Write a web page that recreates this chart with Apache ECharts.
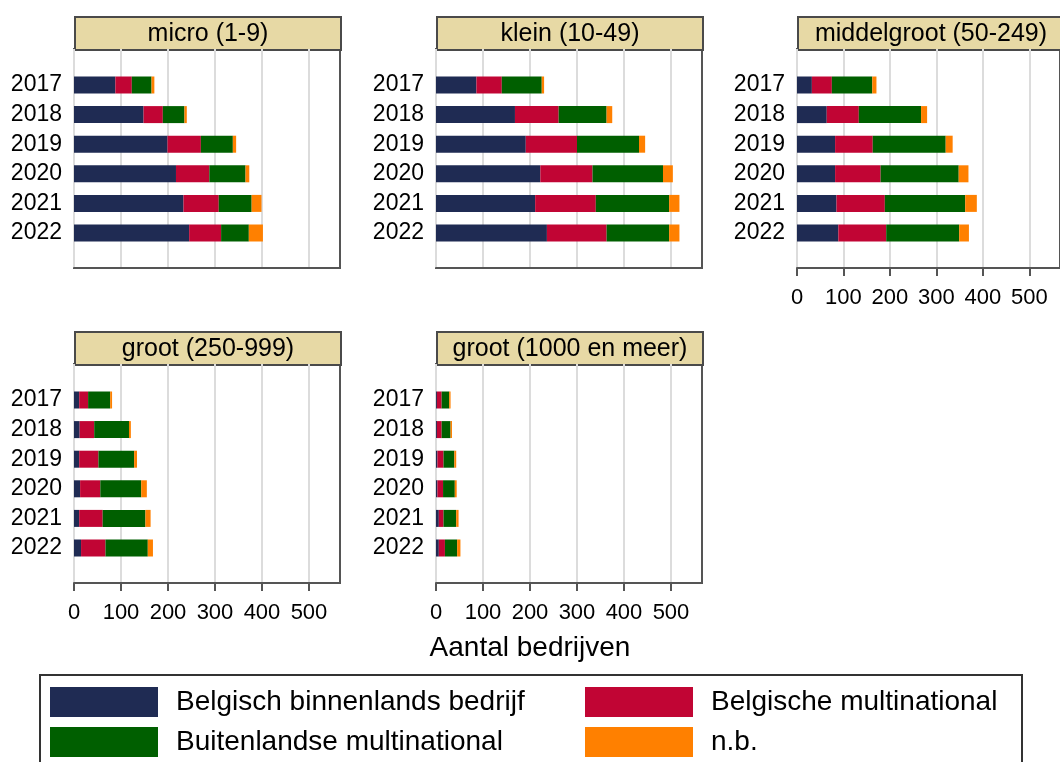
<!DOCTYPE html>
<html>
<head>
<meta charset="utf-8">
<script src="https://cdn.jsdelivr.net/npm/echarts@6/dist/echarts.min.js"></script>
<style>
html,body{margin:0;padding:0;background:#fff;}
#chart{width:1060px;height:762px;}
</style>
</head>
<body>
<div id="chart"></div>
<script>
// ---- data ----
const years = ['2017','2018','2019','2020','2021','2022'];
const panelTitles = ['micro (1-9)','klein (10-49)','middelgroot (50-249)','groot (250-999)','groot (1000 en meer)'];
const seriesNames = ['Belgisch binnenlands bedrijf','Belgische multinational','Buitenlandse multinational','n.b.'];
const xTicks = [0,100,200,300,400,500];
const axisTitle = 'Aantal bedrijven';

// one row per panel (micro, klein, middelgroot, groot 250-999, groot 1000+), values per year
const binnenlands = [
  [88,148,199,217,233,245],
  [86,168,191,222,211,236],
  [32,64,82,82,85,89],
  [11,12,11,13,11,15],
  [2,2,3,3,6,6]
];
const belgischeMulti = [
  [35,41,71,71,75,68],
  [54,93,109,111,129,127],
  [43,69,81,98,104,103],
  [19,31,41,43,50,52],
  [10,10,13,12,10,13]
];
const buitenlandseMulti = [
  [42,46,68,77,70,59],
  [85,102,132,150,156,133],
  [87,134,157,168,173,157],
  [47,74,76,87,91,90],
  [16,19,23,25,27,26]
];
const nb = [
  [6,5,7,8,21,30],
  [5,12,13,21,22,22],
  [9,13,15,21,25,21],
  [4,4,6,12,11,11],
  [3,3,4,4,5,7]
];

// ---- styling / layout ----
const colors = ['#1f2b53','#c10534','#005f00','#ff8000'];
const FONT = 'Liberation Sans, Arial, sans-serif';
const XMAX = 566;
const PW = 266, PH = 219;
const layout = [
  {l:74,  t:49,  labels:false},
  {l:436, t:49,  labels:false},
  {l:797, t:49,  labels:true},
  {l:74,  t:364, labels:true},
  {l:436, t:364, labels:true}
];
const seriesData = [binnenlands, belgischeMulti, buitenlandseMulti, nb];

const grid = [], xAxis = [], yAxis = [], series = [], graphic = [];

layout.forEach((p, i) => {
  // frame grid
  grid.push({left:p.l, top:p.t, width:PW, height:PH, show:true, backgroundColor:'#fff',
             borderColor:'#555', borderWidth:2, z:0});
  // bar grid
  grid.push({left:p.l, top:p.t + 21.2, width:PW, height:177.6, show:false});
  const fg = 2*i, bg = 2*i + 1;
  xAxis.push({
    type:'value', gridIndex:fg, min:0, max:XMAX, interval:100,
    axisLine:{show:true, onZero:false, lineStyle:{color:'#555', width:2}},
    axisTick:{show:p.labels, length:8, customValues:xTicks, lineStyle:{color:'#555', width:2}},
    axisLabel:{show:p.labels, customValues:xTicks, margin:19,
               fontSize:22, color:'#000', fontFamily:FONT},
    splitLine:{show:true, lineStyle:{color:'#dcdcdc', width:2}}
  });
  yAxis.push({type:'value', gridIndex:fg, min:0, max:1, show:false});
  xAxis.push({type:'value', gridIndex:bg, min:0, max:XMAX, show:false});
  yAxis.push({
    type:'category', gridIndex:bg, data:years, inverse:true,
    axisLine:{show:false}, axisTick:{show:false}, splitLine:{show:false},
    axisLabel:{interval:0, fontSize:23, color:'#000', margin:12, fontFamily:FONT}
  });
  seriesNames.forEach((name, k) => {
    series.push({
      type:'bar', name:name, stack:'panel'+i, xAxisIndex:bg, yAxisIndex:bg,
      data:seriesData[k][i], barWidth:17, itemStyle:{color:colors[k]},
      emphasis:{disabled:true}, z:3
    });
  });
  // header strip
  graphic.push({
    type:'group', left:p.l, top:p.t - 33, z:10,
    children:[
      {type:'rect', shape:{x:0, y:0, width:PW, height:33},
       style:{fill:'#e7d9a5', stroke:'#4a4a4a', lineWidth:2}},
      {type:'text', x:PW/2, y:17,
       style:{text:panelTitles[i], fill:'#000', font:'25px ' + FONT,
              textAlign:'center', textVerticalAlign:'middle'}}
    ]
  });
});

// axis title
graphic.push({type:'text', left:'center', top:634, z:10,
  style:{text:axisTitle, fill:'#000', font:'28px ' + FONT}});
// legend frame
graphic.push({type:'rect', z:0, shape:{x:40, y:675, width:982, height:100},
  style:{fill:'#fff', stroke:'#333', lineWidth:2}});

const legendCommon = {
  orient:'vertical', itemWidth:108, itemHeight:30, itemGap:10, padding:0,
  icon:'rect', selectedMode:false, z:5,
  textStyle:{fontSize:28, color:'#000', fontFamily:FONT, padding:[0,0,0,13], lineHeight:30}
};

const option = {
  backgroundColor:'#fff',
  animation:false,
  grid, xAxis, yAxis, series, graphic,
  legend:[
    Object.assign({left:50, top:687, data:[seriesNames[0], seriesNames[2]]}, legendCommon),
    Object.assign({left:585, top:687, data:[seriesNames[1], seriesNames[3]]}, legendCommon)
  ]
};

const chart = echarts.init(document.getElementById('chart'), null, {renderer:'canvas'});
chart.setOption(option);
</script>
</body>
</html>
